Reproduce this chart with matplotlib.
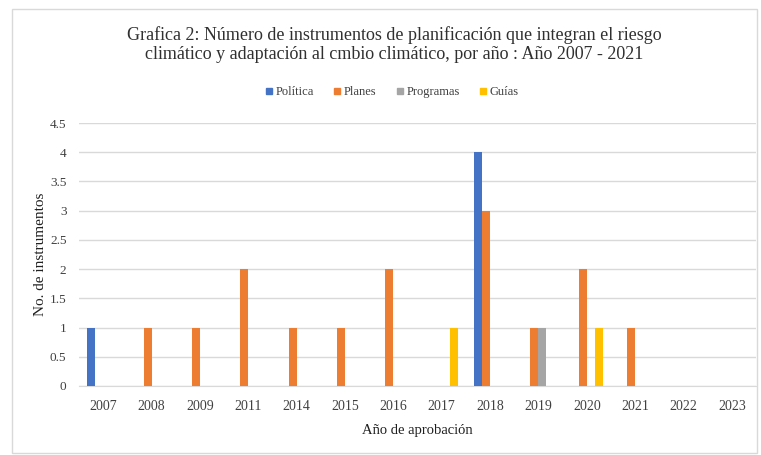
import matplotlib
matplotlib.use("Agg")
import matplotlib.pyplot as plt
import numpy as np
from matplotlib.patches import Rectangle
from matplotlib.lines import Line2D

years = ["2007", "2008", "2009", "2011", "2014", "2015", "2016", "2017",
         "2018", "2019", "2020", "2021", "2022", "2023"]
politica  = [1, 0, 0, 0, 0, 0, 0, 0, 4, 0, 0, 0, 0, 0]
planes    = [0, 1, 1, 2, 1, 1, 2, 0, 3, 1, 2, 1, 0, 0]
programas = [0, 0, 0, 0, 0, 0, 0, 0, 0, 1, 0, 0, 0, 0]
guias     = [0, 0, 0, 0, 0, 0, 0, 1, 0, 0, 1, 0, 0, 0]
series_names = ["Política", "Planes", "Programas", "Guías"]
colors = ["#4472C4", "#ED7D31", "#A5A5A5", "#FFC000"]
yticks = [0, 0.5, 1, 1.5, 2, 2.5, 3, 3.5, 4, 4.5]
ytick_labels = ["0", "0.5", "1", "1.5", "2", "2.5", "3", "3.5", "4", "4.5"]
title = ("Grafica 2: Número de instrumentos de planificación que integran el riesgo\n"
         "climático y adaptación al cmbio climático, por año : Año 2007 - 2021")
xlabel = "Año de aprobación"
ylabel = "No. de instrumentos"

plt.rcParams['font.family'] = ['Liberation Serif', 'DejaVu Serif']

W, H = 761, 455
fig = plt.figure(figsize=(W / 100, H / 100), dpi=100)

# outer border
fig.patches.append(Rectangle((12 / W, 1 - 453 / H), (757 - 12) / W, (453 - 9) / H,
                             transform=fig.transFigure, fill=False,
                             edgecolor="#D9D9D9", linewidth=1))

ax = fig.add_axes([79 / W, 1 - 386 / H, (756 - 79) / W, (386 - 123) / H])
x = np.arange(len(years))
bw = 0.165
data = [politica, planes, programas, guias]
for i, (vals, c, name) in enumerate(zip(data, colors, series_names)):
    ax.bar(x + (i - 1.5) * bw, vals, width=bw, color=c, label=name, zorder=3)

ax.set_xlim(-0.5, len(years) - 0.5)
ax.set_ylim(0, 4.5)
ax.set_yticks(yticks)
ax.set_yticklabels(ytick_labels, fontsize=9.5, color="#404040")
ax.set_xticks(x)
ax.set_xticklabels(years, fontsize=10, color="#404040")
ax.tick_params(axis="both", length=0)
ax.tick_params(axis="y", pad=9)
ax.tick_params(axis="x", pad=10)
ax.grid(axis="y", color="#D9D9D9", linewidth=1, zorder=0)
for s in ["top", "right", "left"]:
    ax.spines[s].set_visible(False)
ax.spines["bottom"].set_color("#D9D9D9")
ax.set_xlabel(xlabel, fontsize=10.5, color="#202020", labelpad=8)
ax.set_ylabel(ylabel, fontsize=11, color="#202020", labelpad=2)

fig.text(394 / W, 1 - 45 / H, title, ha="center", va="center", fontsize=13,
         color="#303030", linespacing=1.15)

handles = [Line2D([], [], marker="s", linestyle="none", markersize=4,
                  color=c) for c in colors]
fig.legend(handles, series_names, loc="center", bbox_to_anchor=(392 / W, 1 - 92 / H),
           ncol=4, frameon=False, fontsize=9, handlelength=0.6, handletextpad=0.2,
           columnspacing=1.6, labelcolor="#404040")

fig.savefig("out.png", dpi=100)
